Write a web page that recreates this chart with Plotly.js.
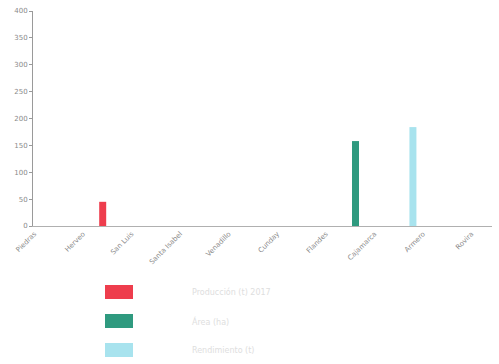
<!DOCTYPE html>
<html>
<head>
<meta charset="utf-8">
<script src="https://cdn.plot.ly/plotly-3.0.1.min.js"></script>
<style>html,body{margin:0;padding:0;background:#fff;}#chart{width:499px;height:364px;}</style>
</head>
<body>
<div id="chart"></div>
<script>
// Data
const categories = ["Piedras", "Herveo", "San Luis", "Santa Isabel", "Venadillo", "Cunday", "Flandes", "Cajamarca", "Armero", "Rovira"];
const seriesNames = ["Producción (t) 2017", "Área (ha)", "Rendimiento (t)"];
const seriesColors = ["#ee3d4d", "#2f9a7f", "#a8e3ee"];
const redValues   = [0, 0, 45, 0, 0, 0, 0, 0, 0, 0];
const greenValues = [0, 0, 0, 0, 0, 0, 0, 158, 0, 0];
const cyanValues  = [0, 0, 0, 0, 0, 0, 0, 0, 184, 0];
const yTicks = [0, 50, 100, 150, 200, 250, 300, 350, 400];

const allValues = [redValues, greenValues, cyanValues];
const barOffsets = [-0.667, -0.462, -0.28];

const traces = allValues.map((vals, i) => ({
  type: 'bar',
  x: categories,
  y: vals,
  name: seriesNames[i],
  marker: {color: seriesColors[i], line: {width: 0}},
  width: 0.144,
  offset: barOffsets[i],
  showlegend: false,
  hoverinfo: 'x+y'
}));

const legendY = [292, 321, 350];
const plotW = 499 - 33 - 7, plotH = 364 - 11 - 138;

const layout = {
  width: 499, height: 364,
  margin: {l: 33, r: 7, t: 11, b: 138, pad: 0},
  paper_bgcolor: '#fff', plot_bgcolor: '#fff',
  barmode: 'overlay',
  showlegend: false,
  font: {family: 'DejaVu Sans, sans-serif', size: 7, color: '#8a8a8a'},
  xaxis: {
    type: 'category',
    range: [-0.03, 9.42],
    showgrid: false, zeroline: false,
    showline: true, linecolor: '#b0b0b0', linewidth: 1,
    ticks: '', tickangle: -45,
    tickfont: {size: 7, color: '#8a8a8a'}
  },
  yaxis: {
    range: [0, 400],
    tickvals: yTicks,
    showgrid: false, zeroline: false,
    showline: true, linecolor: '#9a9a9a', linewidth: 1,
    ticks: 'outside', ticklen: 3, tickcolor: '#9a9a9a',
    tickfont: {size: 7, color: '#8a8a8a'}
  }
};

layout.shapes = seriesNames.map((n, i) => {
  const yPix = legendY[i];
  return {type: 'rect', xref: 'paper', yref: 'paper',
    x0: (105 - 33) / plotW, x1: (133 - 33) / plotW,
    y0: (364 - 138 - (yPix + 7)) / plotH, y1: (364 - 138 - (yPix - 7)) / plotH,
    fillcolor: seriesColors[i], line: {width: 0}};
});
layout.annotations = seriesNames.map((n, i) => ({
  xref: 'paper', yref: 'paper',
  x: (190 - 33) / plotW, y: (364 - 138 - legendY[i]) / plotH,
  xanchor: 'left', yanchor: 'middle', showarrow: false,
  text: n, font: {size: 8, color: '#dedede'}
}));

Plotly.newPlot('chart', traces, layout, {displayModeBar: false, staticPlot: true});
</script>
</body>
</html>
